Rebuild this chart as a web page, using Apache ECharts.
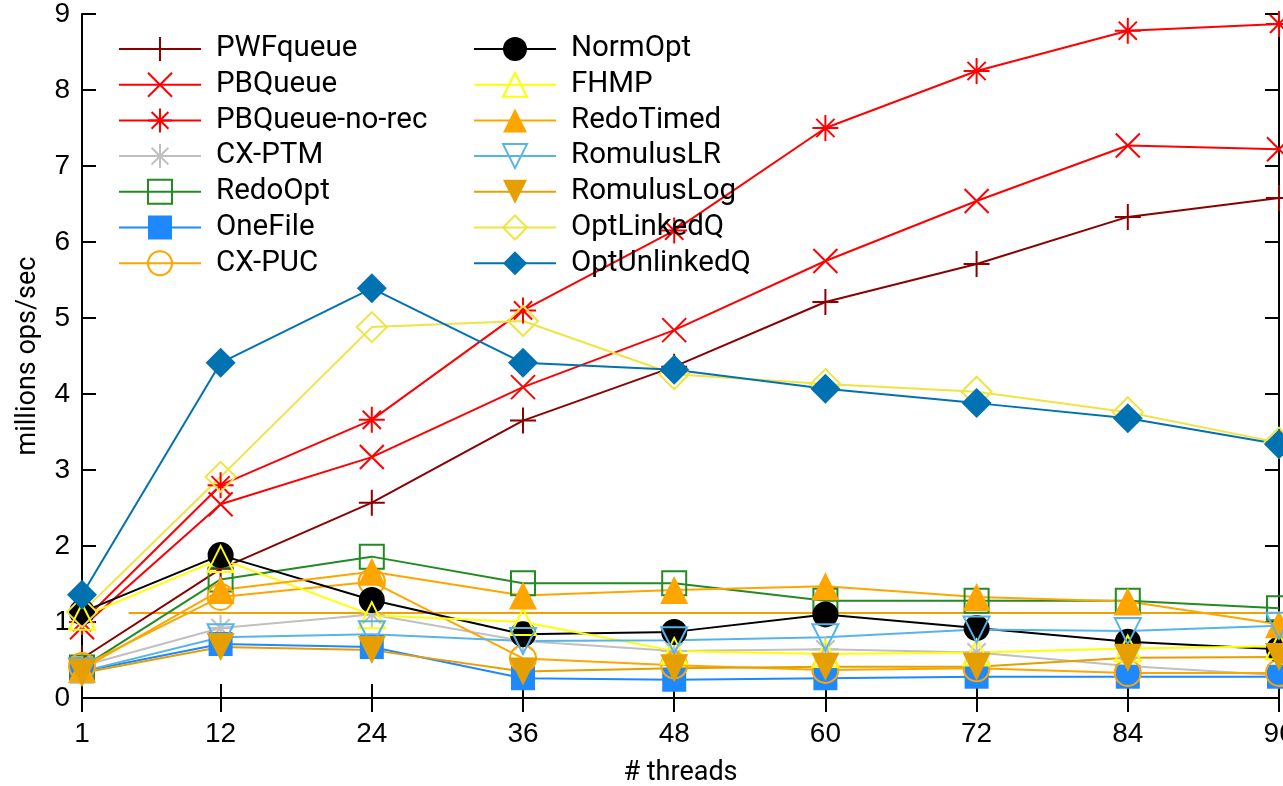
<!DOCTYPE html>
<html>
<head>
<meta charset="utf-8">
<style>
  html, body { margin: 0; padding: 0; background: #fff; }
  #main { width: 1283px; height: 786px; }
</style>
<script src="https://cdn.jsdelivr.net/npm/echarts@6/dist/echarts.min.js"></script>
</head>
<body>
<div id="main"></div>
<script>
// thread counts on the x axis
var threads = [1, 12, 24, 36, 48, 60, 72, 84, 96];
var yTicks = [0, 1, 2, 3, 4, 5, 6, 7, 8, 9];

// millions ops/sec per queue
var pwfQueue     = [0.52, 1.70, 2.57, 3.65, 4.36, 5.21, 5.71, 6.33, 6.58];
var pbQueue      = [0.93, 2.55, 3.17, 4.09, 4.84, 5.75, 6.54, 7.27, 7.22];
var pbQueueNoRec = [1.00, 2.80, 3.66, 5.10, 6.15, 7.50, 8.25, 8.78, 8.87];
var cxPtm        = [0.42, 0.92, 1.10, 0.75, 0.62, 0.64, 0.60, 0.42, 0.30];
var redoOpt      = [0.40, 1.56, 1.86, 1.51, 1.51, 1.28, 1.28, 1.28, 1.18];
var oneFile      = [0.35, 0.71, 0.67, 0.26, 0.24, 0.26, 0.28, 0.28, 0.28];
var cxPuc        = [0.42, 1.33, 1.53, 0.52, 0.43, 0.37, 0.39, 0.33, 0.33];
var normOpt      = [1.13, 1.88, 1.29, 0.84, 0.87, 1.10, 0.92, 0.74, 0.64];
var fhmp         = [1.07, 1.83, 1.09, 1.00, 0.62, 0.58, 0.60, 0.65, 0.68];
var redoTimed    = [0.38, 1.42, 1.66, 1.35, 1.42, 1.47, 1.33, 1.27, 0.97];
var romulusLR    = [0.35, 0.80, 0.84, 0.75, 0.76, 0.80, 0.90, 0.88, 0.95];
var romulusLog   = [0.33, 0.67, 0.63, 0.35, 0.39, 0.41, 0.41, 0.53, 0.54];
var optLinkedQ   = [1.13, 2.91, 4.88, 4.96, 4.26, 4.13, 4.03, 3.76, 3.36];
var optUnlinkedQ = [1.36, 4.41, 5.39, 4.41, 4.32, 4.07, 3.88, 3.68, 3.34];

// stray flat line in the plot (x start / end, value)
var flatLineX = [4.7, 96];
var flatLineY = [1.12, 1.12];

var PLUS = "path://M0,-10L0,10M-10,0L10,0";
var CROSS = "path://M-10,-10L10,10M-10,10L10,-10";
var STAR = "path://M0,-10L0,10M-10,0L10,0M-7,-7L7,7M-7,7L7,-7";

// kind: "stroke" = line-only glyph, "empty" = hollow, "fill" = solid
function mk(name, vals, color, symbol, size, kind, rotate) {
  var item;
  if (kind === "stroke") {
    item = { color: color, borderColor: color, borderWidth: 2 };
  } else if (kind === "empty") {
    item = { color: "rgba(0,0,0,0)", borderColor: color, borderWidth: 2 };
  } else {
    item = { color: color, borderWidth: 0 };
  }
  return {
    name: name,
    type: "line",
    data: threads.map(function (t, i) { return [t, vals[i]]; }),
    symbol: symbol,
    symbolSize: size,
    symbolRotate: rotate || 0,
    showAllSymbol: true,
    clip: false,
    lineStyle: { color: color, width: 2 },
    itemStyle: item,
    emphasis: { disabled: true },
    animation: false
  };
}

var series = [
  mk("PWFqueue", pwfQueue, "#8b0000", PLUS, 26, "stroke"),
  mk("PBQueue", pbQueue, "#ff0000", CROSS, 24, "stroke"),
  mk("PBQueue-no-rec", pbQueueNoRec, "#ff0000", STAR, 26, "stroke"),
  mk("CX-PTM", cxPtm, "#c0c0c0", STAR, 26, "stroke"),
  mk("RedoOpt", redoOpt, "#228b22", "rect", 24, "empty"),
  mk("OneFile", oneFile, "#1e88ff", "rect", 24, "fill"),
  mk("CX-PUC", cxPuc, "#ffa500", "circle", 26, "empty"),
  mk("NormOpt", normOpt, "#000000", "circle", 26, "fill"),
  mk("FHMP", fhmp, "#ffff00", "triangle", 26, "empty"),
  mk("RedoTimed", redoTimed, "#ffa500", "triangle", 28, "fill"),
  mk("RomulusLR", romulusLR, "#56b4e9", "triangle", 26, "empty", 180),
  mk("RomulusLog", romulusLog, "#e69f00", "triangle", 28, "fill", 180),
  mk("OptLinkedQ", optLinkedQ, "#f0e442", "diamond", 30, "empty"),
  mk("OptUnlinkedQ", optUnlinkedQ, "#0072b2", "diamond", 30, "fill")
];

series.push({
  name: "flat",
  type: "line",
  data: flatLineX.map(function (x, i) { return [x, flatLineY[i]]; }),
  symbol: "none",
  lineStyle: { color: "#f0a000", width: 2 },
  emphasis: { disabled: true },
  animation: false,
  z: 1
});

var names = series.map(function (s) { return s.name; });
var legendBase = {
  orient: "vertical",
  padding: 0,
  itemWidth: 82,
  itemHeight: 30,
  itemGap: 5.7,
  top: 34,
  textStyle: { fontFamily: "Roboto", fontSize: 29.5, color: "#000", padding: [0, 0, 0, 10] },
  selectedMode: false
};

var tickFont = { fontFamily: "Liberation Sans", fontSize: 28, color: "#000" };

var myChart = echarts.init(document.getElementById("main"), null, { renderer: "canvas" });
myChart.setOption({
  animation: false,
  backgroundColor: "#fff",
  grid: { left: 82, right: 4, top: 14, bottom: 88, containLabel: false, outerBoundsMode: "none" },
  legend: [
    Object.assign({}, legendBase, { left: 118, data: names.slice(0, 7) }),
    Object.assign({}, legendBase, { left: 473, data: names.slice(7, 14) })
  ],
  xAxis: [
    {
      type: "value",
      min: 1,
      max: 96,
      name: "# threads",
      nameLocation: "middle",
      nameGap: 62,
      nameTextStyle: { fontFamily: "Roboto", fontSize: 27, color: "#000" },
      axisLine: { lineStyle: { color: "#000", width: 2 } },
      axisTick: { inside: true, length: 14, customValues: threads, lineStyle: { color: "#000", width: 2 } },
      axisLabel: Object.assign({ customValues: threads, margin: 22 }, tickFont),
      splitLine: { show: false }
    },
    {
      type: "value",
      min: 1,
      max: 96,
      position: "top",
      axisLine: { lineStyle: { color: "#000", width: 2 } },
      axisTick: { inside: true, length: 14, customValues: threads, lineStyle: { color: "#000", width: 2 } },
      axisLabel: { show: false },
      splitLine: { show: false }
    }
  ],
  yAxis: [
    {
      type: "value",
      min: 0,
      max: 9,
      interval: 1,
      name: "millions ops/sec",
      nameLocation: "middle",
      nameGap: 40,
      nameRotate: 90,
      nameTextStyle: { fontFamily: "Roboto", fontSize: 27, color: "#000" },
      axisLine: { show: true, lineStyle: { color: "#000", width: 2 } },
      axisTick: { show: true, inside: true, length: 14, customValues: yTicks, lineStyle: { color: "#000", width: 2 } },
      axisLabel: Object.assign({ customValues: yTicks, margin: 12 }, tickFont),
      splitLine: { show: false }
    },
    {
      type: "value",
      min: 0,
      max: 9,
      interval: 1,
      position: "right",
      axisLine: { show: true, lineStyle: { color: "#000", width: 2 } },
      axisTick: { show: true, inside: true, length: 14, lineStyle: { color: "#000", width: 2 } },
      axisLabel: { show: false },
      splitLine: { show: false }
    }
  ],
  series: series
});
</script>
</body>
</html>
